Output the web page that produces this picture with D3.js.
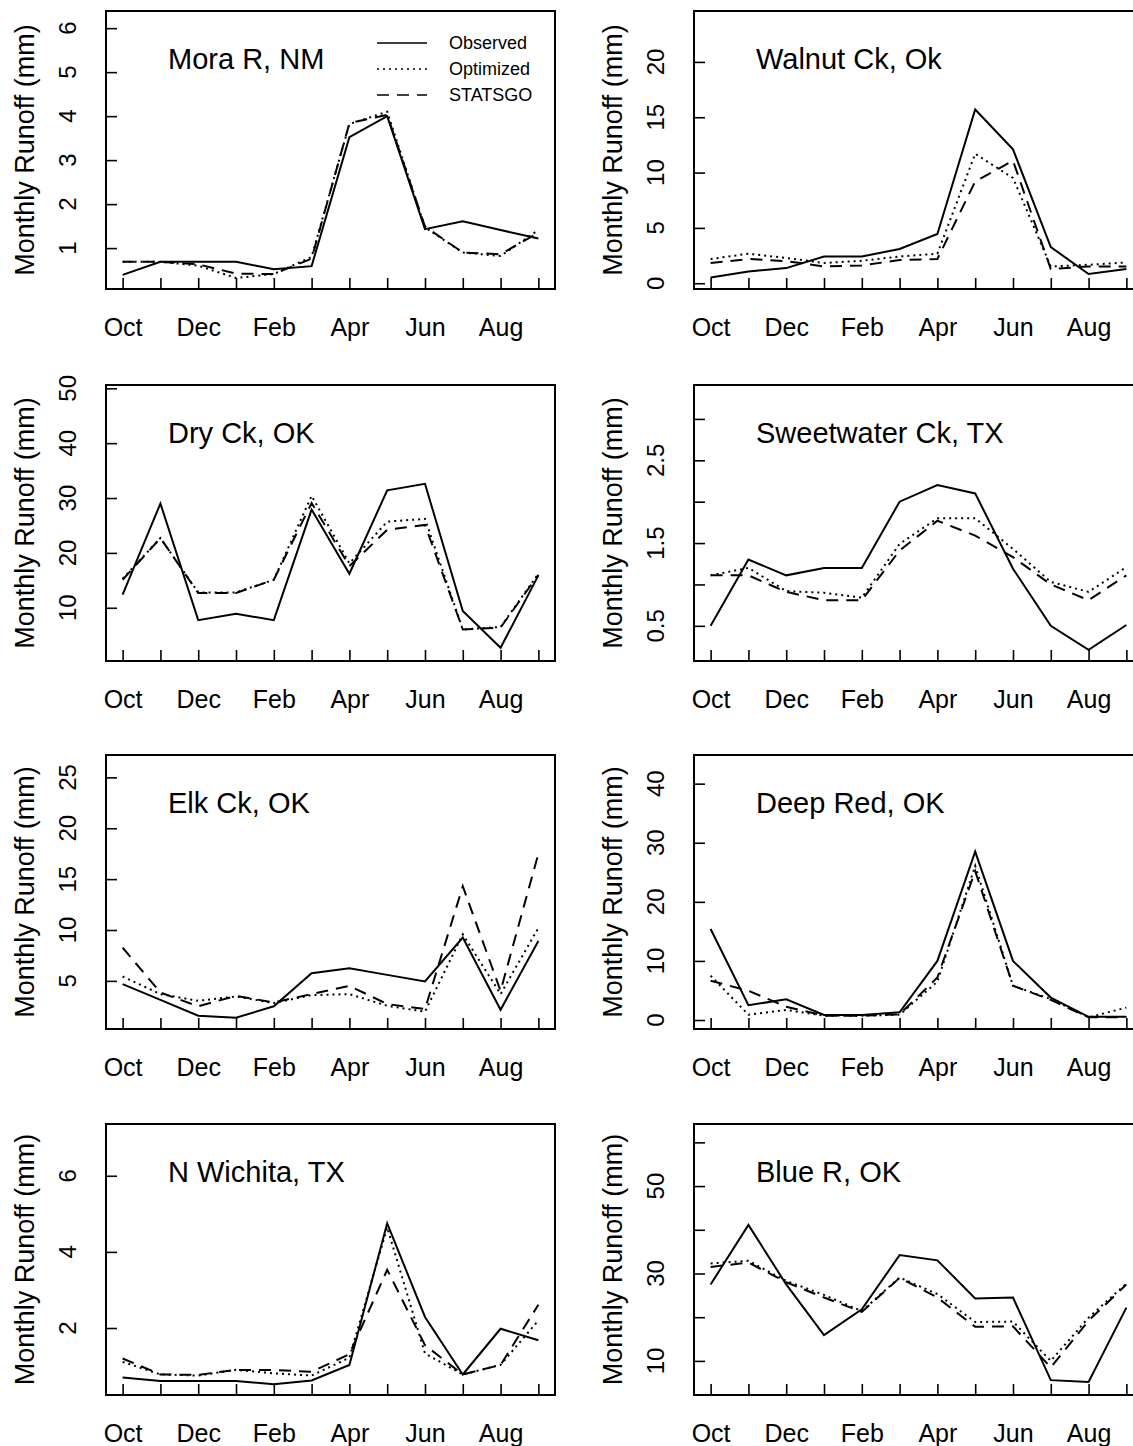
<!DOCTYPE html>
<html>
<head>
<meta charset="utf-8">
<script src="https://cdn.jsdelivr.net/npm/d3@7"></script>
<style>
    body { margin: 0; background: #fff; }
    svg { display: block; font-family: "Liberation Sans", Arial, Helvetica, sans-serif; }
</style>
</head>
<body>
<script>
"use strict";
(function(){
    // months on the x axis (water year), every other one gets a label
    const months = ["Oct", "Nov", "Dec", "Jan", "Feb", "Mar", "Apr", "May", "Jun", "Jul", "Aug", "Sep"]

    const sites = ["Mora R, NM", "Walnut Ck, Ok", "Dry Ck, OK", "Sweetwater Ck, TX",
                   "Elk Ck, OK", "Deep Red, OK", "N Wichita, TX", "Blue R, OK"]

    // monthly runoff (mm)
    const observed = [
        [0.39, 0.69, 0.69, 0.69, 0.52, 0.59, 3.52, 4.0, 1.43, 1.61, 1.41, 1.22],
        [0.52, 1.07, 1.37, 2.42, 2.42, 3.09, 4.45, 15.7, 12.1, 3.27, 0.83, 1.28],
        [12.4, 29.0, 7.75, 8.9, 7.75, 27.9, 16.2, 31.4, 32.6, 9.4, 2.7, 15.9],
        [0.5, 1.3, 1.11, 1.2, 1.2, 2.0, 2.2, 2.1, 1.19, 0.5, 0.21, 0.51],
        [4.68, 3.14, 1.58, 1.38, 2.5, 5.75, 6.24, 5.59, 4.94, 9.25, 2.16, 8.91],
        [15.4, 2.5, 3.5, 0.85, 0.85, 1.3, 10.0, 28.5, 10.0, 3.8, 0.55, 0.55],
        [0.7, 0.61, 0.61, 0.61, 0.52, 0.62, 1.03, 4.75, 2.29, 0.78, 1.98, 1.68],
        [27.5, 41.1, 27.5, 15.9, 21.8, 34.2, 33.0, 24.3, 24.5, 5.6, 5.2, 22.2]
    ]
    const optimized = [
        [0.69, 0.69, 0.6, 0.32, 0.41, 0.8, 3.82, 4.1, 1.47, 0.9, 0.82, 1.41],
        [2.19, 2.67, 2.28, 1.83, 2.03, 2.42, 2.67, 11.7, 9.51, 1.52, 1.67, 1.88],
        [15.3, 22.7, 12.8, 12.8, 15.1, 30.4, 18.1, 25.7, 26.2, 6.05, 6.5, 16.2],
        [1.11, 1.2, 0.92, 0.9, 0.84, 1.49, 1.8, 1.8, 1.43, 1.03, 0.91, 1.21],
        [5.43, 3.7, 3.04, 3.47, 2.82, 3.6, 3.7, 2.55, 1.97, 9.57, 3.7, 10.2],
        [7.5, 0.9, 1.7, 0.73, 0.73, 0.9, 6.5, 26.1, 5.8, 3.55, 0.45, 2.1],
        [1.11, 0.78, 0.75, 0.9, 0.81, 0.75, 1.22, 4.64, 1.33, 0.78, 1.03, 2.2],
        [32.3, 32.9, 28.3, 25.1, 21.4, 29.1, 25.3, 18.9, 19.0, 10.0, 19.9, 27.7]
    ]
    const statsgo = [
        [0.69, 0.69, 0.63, 0.42, 0.41, 0.76, 3.84, 4.03, 1.49, 0.9, 0.86, 1.35],
        [1.83, 2.19, 2.0, 1.52, 1.6, 2.1, 2.19, 9.2, 11.07, 1.28, 1.52, 1.52],
        [15.1, 22.7, 12.7, 12.7, 15.1, 29.1, 17.6, 24.2, 25.1, 6.05, 6.4, 16.0],
        [1.11, 1.11, 0.91, 0.81, 0.81, 1.41, 1.77, 1.59, 1.33, 1.0, 0.81, 1.11],
        [8.26, 3.86, 2.5, 3.53, 2.88, 3.7, 4.51, 2.72, 2.23, 14.3, 4.02, 17.5],
        [6.65, 4.95, 2.25, 0.73, 0.73, 0.96, 7.2, 25.2, 5.8, 3.4, 0.45, 0.5],
        [1.2, 0.78, 0.77, 0.9, 0.9, 0.85, 1.31, 3.53, 1.55, 0.78, 1.03, 2.61],
        [31.5, 32.5, 28.0, 24.5, 21.2, 29.0, 24.5, 17.8, 17.9, 8.5, 19.2, 27.5]
    ]

    // axis limits and ticks for each panel
    const yLimits = [[0.07, 6.39], [-0.52, 24.6], [0.3, 50.6], [0.075, 3.41],
                     [0.27, 27.2], [-1.52, 44.85], [0.24, 7.36], [2.2, 64.2]]
    const yTicks = [[1, 2, 3, 4, 5, 6], [0, 5, 10, 15, 20], [10, 20, 30, 40, 50],
                    [0.5, 1, 1.5, 2, 2.5, 3], [5, 10, 15, 20, 25], [0, 10, 20, 30, 40],
                    [2, 4, 6], [10, 20, 30, 40, 50, 60]]
    const yTickLabels = [["1", "2", "3", "4", "5", "6"], ["0", "5", "10", "15", "20"],
                         ["10", "20", "30", "40", "50"], ["0.5", "", "1.5", "", "2.5", ""],
                         ["5", "10", "15", "20", "25"], ["0", "10", "20", "30", "40"],
                         ["2", "4", "6"], ["10", "", "30", "", "50", ""]]

    const seriesNames = ["Observed", "Optimized", "STATSGO"]
    const dashes = ["none", "2,4", "12,8"]

    // page layout
    const measurements = {
        width: 1133,
        height: 1446,
        colLeft: [106, 694],
        rowTop: [11, 385, 755, 1124],
        rowBottom: [289, 661, 1029, 1395],
        panelWidth: 449
    }

    const svg = d3.select("body").append("svg")
        .attr("width", measurements.width)
        .attr("height", measurements.height)

    sites.forEach((site, p) => drawPanel(p))

    function drawPanel(p) {
        const left = measurements.colLeft[p % 2]
        const right = left + measurements.panelWidth
        const top = measurements.rowTop[Math.floor(p / 2)]
        const bottom = measurements.rowBottom[Math.floor(p / 2)]

        // R style: 4% padding on the month axis
        const scaleX = d3.scaleLinear()
            .domain([-0.44, 11.44])
            .range([left, right])
        const scaleY = d3.scaleLinear()
            .domain(yLimits[p])
            .range([bottom, top])

        const g = svg.append("g")

        // month ticks point into the plot
        const xAxis = d3.axisBottom(scaleX)
            .tickValues(d3.range(12))
            .tickSizeInner(-11)
            .tickSizeOuter(0)
            .tickPadding(29)
            .tickFormat((i) => i % 2 === 0 ? months[i] : "")
        const gx = g.append("g")
            .attr("transform", "translate(0," + bottom + ")")
            .call(xAxis)
        gx.select(".domain").remove()
        gx.selectAll(".tick line").attr("stroke", "#000").attr("stroke-width", 1.6)
        gx.selectAll(".tick text")
            .attr("fill", "#000")
            .attr("font-size", 25)
            .attr("font-family", null)

        const yAxis = d3.axisLeft(scaleY)
            .tickValues(yTicks[p])
            .tickSizeInner(-11)
            .tickSizeOuter(0)
            .tickFormat("")
        const gy = g.append("g")
            .attr("transform", "translate(" + left + ",0)")
            .call(yAxis)
        gy.select(".domain").remove()
        gy.selectAll(".tick line").attr("stroke", "#000").attr("stroke-width", 1.6)

        // rotated tick labels, parallel to the axis
        g.selectAll(".ylab")
            .data(yTicks[p])
            .enter()
            .append("text")
            .attr("class", "ylab")
            .attr("transform", (d) => "translate(" + (left - 30) + "," + scaleY(d) + ") rotate(-90)")
            .attr("text-anchor", "middle")
            .attr("font-size", 24)
            .text((d, i) => yTickLabels[p][i])

        g.append("text")
            .attr("transform", "translate(" + (left - 72) + "," + ((top + bottom) / 2) + ") rotate(-90)")
            .attr("text-anchor", "middle")
            .attr("font-size", 27)
            .text("Monthly Runoff (mm)")

        // the three series
        const line = d3.line()
            .x((d, i) => scaleX(i))
            .y((d) => scaleY(d))
        const series = [observed[p], optimized[p], statsgo[p]]
        series.forEach((values, s) => {
            g.append("path")
                .datum(values)
                .attr("d", line)
                .attr("fill", "none")
                .attr("stroke", "#000")
                .attr("stroke-width", 2)
                .attr("stroke-dasharray", dashes[s])
        })

        // frame
        g.append("rect")
            .attr("x", left)
            .attr("y", top)
            .attr("width", right - left)
            .attr("height", bottom - top)
            .attr("fill", "none")
            .attr("stroke", "#000")
            .attr("stroke-width", 2)

        g.append("text")
            .attr("x", left + 62)
            .attr("y", top + 58)
            .attr("font-size", 29)
            .text(sites[p])

        if (p === 0) drawLegend(g)
    }

    function drawLegend(g) {
        const legend = g.selectAll(".legend")
            .data(seriesNames)
            .enter()
            .append("g")
            .attr("class", "legend")
            .attr("transform", (d, i) => "translate(377," + (43 + i * 26) + ")")

        legend.append("line")
            .attr("x1", 0)
            .attr("x2", 50)
            .attr("stroke", "#000")
            .attr("stroke-width", 1.6)
            .attr("stroke-dasharray", (d, i) => dashes[i])

        legend.append("text")
            .attr("x", 72)
            .attr("y", 6)
            .attr("font-size", 18)
            .text((d) => d)
    }
})()
</script>
</body>
</html>
